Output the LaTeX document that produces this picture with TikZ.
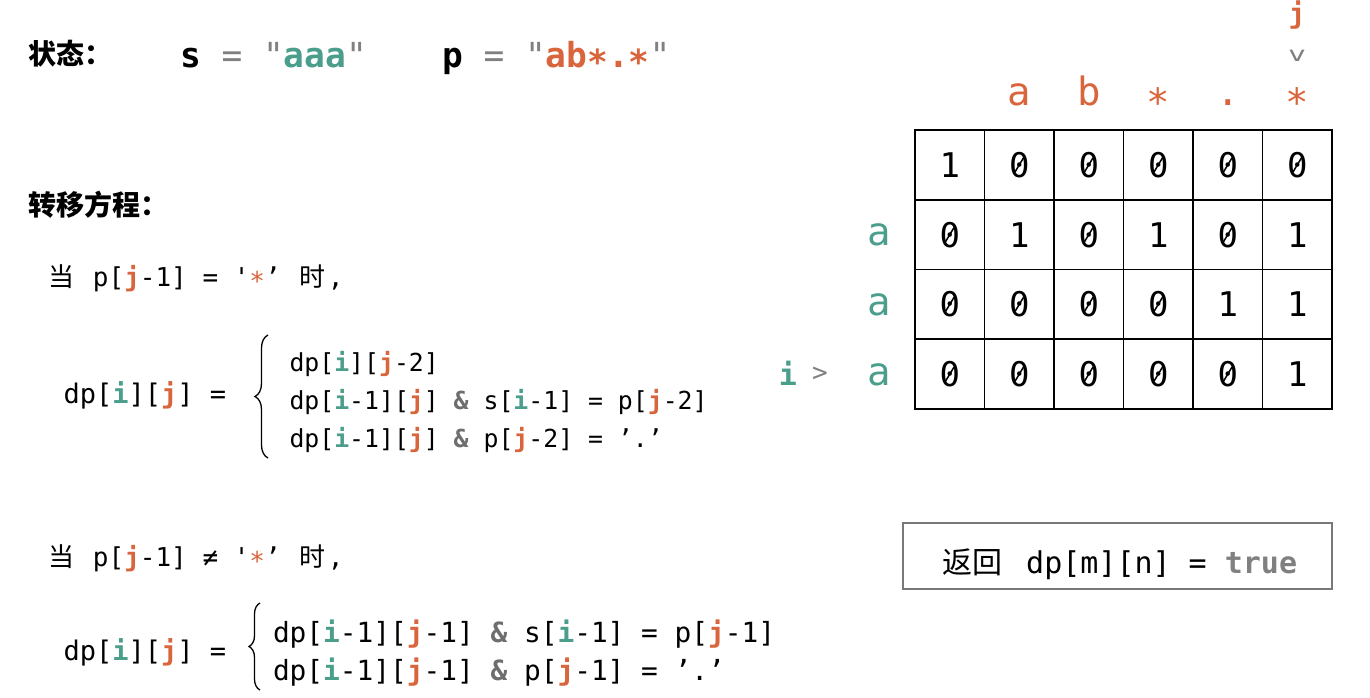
\documentclass[tikz,border=0pt]{standalone}
\usepackage{fontspec}
\usetikzlibrary{decorations.pathreplacing}
\setmonofont{DejaVu Sans Mono}
\newfontfamily\cjk{Noto Sans CJK SC}
\definecolor{tealc}{RGB}{76,158,140}
\definecolor{orgc}{RGB}{217,101,60}
\definecolor{grayc}{RGB}{128,128,128}
\definecolor{ampc}{RGB}{110,110,110}
\definecolor{boxc}{RGB}{120,120,120}
\newcommand\ivar{{\bfseries\color{tealc}i}}
\newcommand\jvar{{\bfseries\color{orgc}j}}
\newcommand\andop{{\bfseries\color{ampc}\&}}
\newcommand\zh[1]{\makebox[1.204em][c]{\cjk #1}}
\newcommand\zhh[1]{\makebox[2.408em][c]{\cjk #1}}
\newcommand\lowast[1][0.2em]{\raisebox{-#1}{*}}
\begin{document}
\begin{tikzpicture}[x=1pt,y=-1pt,
  every node/.style={inner sep=0pt, outer sep=0pt, font=\ttfamily},
  head/.style={anchor=base west, font=\cjk\bfseries\fontsize{28}{28}\selectfont},
  title/.style={anchor=base west, font=\ttfamily\fontsize{34.5}{34.5}\selectfont},
  cond/.style={anchor=base west, font=\ttfamily\fontsize{26}{26}\selectfont},
  lhs/.style={anchor=base west, font=\ttfamily\fontsize{27}{27}\selectfont},
  caseA/.style={anchor=base west, font=\ttfamily\fontsize{24.8}{24.8}\selectfont},
  caseB/.style={anchor=base west, font=\ttfamily\fontsize{27.8}{27.8}\selectfont},
  bracec/.style={line width=1.3pt, decorate},
  cell/.style={draw, line width=1.6pt, minimum width=69.5pt, minimum height=69.75pt, font=\ttfamily\fontsize{34}{34}\selectfont},
  zslash/.style={line width=1.5pt},
  hdr/.style={anchor=base, text=orgc, font=\ttfamily\fontsize{39}{39}\selectfont},
  rowl/.style={anchor=base, text=tealc, font=\ttfamily\fontsize{39}{39}\selectfont},
  ptr/.style={text=grayc, font=\ttfamily\fontsize{26}{26}\selectfont},
  retbox/.style={draw=boxc, line width=1.5pt, minimum width=429pt, minimum height=66pt}]
\useasboundingbox (0,0) rectangle (1370,698);

% headings
\node[head] (h1) at (28,65) {状态：};
\node[head] (h2) at (28,215) {转移方程：};

% title strings
\node[title] (ts) at (180,68) {{\bfseries s} {\color{grayc}= "}{\color{tealc}\bfseries aaa}{\color{grayc}"}};
\node[title] (tp) at (442,68) {{\bfseries p} {\color{grayc}= "}{\color{orgc}\bfseries ab\lowast.\lowast}{\color{grayc}"}};

% first case
\node[cond] (c1) at (46,286) {\zh{当} p[\jvar-1] = '{\color{orgc}\lowast[0.18em]}’ \zh{时},};
\node[lhs] (l1) at (63.5,403) {dp[\ivar][\jvar] =};
\draw[bracec, decoration={brace, amplitude=13pt}] (268,458) -- (268,335);
\node[caseA] (a1) at (289.5,371) {dp[\ivar][\jvar-2]};
\node[caseA] (a2) at (289.5,409) {dp[\ivar-1][\jvar] \andop{} s[\ivar-1] = p[\jvar-2]};
\node[caseA] (a3) at (289.5,447) {dp[\ivar-1][\jvar] \andop{} p[\jvar-2] = ’.’};

% second case
\node[cond] (c2) at (46,566) {\zh{当} p[\jvar-1] ≠ '{\color{orgc}\lowast[0.18em]}’ \zh{时},};
\node[lhs] (l2) at (63.5,660) {dp[\ivar][\jvar] =};
\draw[bracec, decoration={brace, amplitude=11pt}] (260,690) -- (260,603);
\node[caseB] (b1) at (273,642) {dp[\ivar-1][\jvar-1] \andop{} s[\ivar-1] = p[\jvar-1]};
\node[caseB] (b2) at (273,680) {dp[\ivar-1][\jvar-1] \andop{} p[\jvar-1] = ’.’};

% dp table
\foreach \row [count=\r from 0] in {{1,0,0,0,0,0},{0,1,0,1,0,1},{0,0,0,0,1,1},{0,0,0,0,0,1}} {
  \foreach \v [count=\c from 0] in \row {
    \node[cell] (g\r\c) at ({915+69.5*(\c+0.5)},{130+69.75*(\r+0.5)}) {\v};
    \ifnum\v=0
      \draw[zslash] ([shift={(-4.2,7)}]g\r\c.center) -- ([shift={(4.2,-7)}]g\r\c.center);
    \fi
  }
}
\node[hdr] (p1) at (1019.25,106) {a};
\node[hdr] (p2) at (1088.75,106) {b};
\node[hdr] (p3) at (1158.25,106) {\lowast[0.27em]};
\node[hdr] (p4) at (1227.75,106) {.};
\node[hdr] (p5) at (1297.25,106) {\lowast[0.27em]};
\node[rowl] (s1) at (879,245) {a};
\node[rowl] (s2) at (879,315) {a};
\node[rowl] (s3) at (879,385) {a};
\node[anchor=base, text=orgc, font=\ttfamily\bfseries\fontsize{28}{28}\selectfont] (jl) at (1297,24) {j};
\node[ptr] (jv) at (1297,56) {\scalebox{1.15}[0.8]{v}};
\node[anchor=base, text=tealc, font=\ttfamily\bfseries\fontsize{30}{30}\selectfont] (il) at (788,385) {i};
\node[ptr] (iv) at (820,374) {>};

% return box
\node[retbox] (rb) at (1117.5,556) {};
\node[anchor=base, font=\ttfamily\fontsize{30}{30}\selectfont] (rt) at (1116.5,573) {\zhh{返回} dp[m][n] = {\bfseries\color{grayc}true}};
\end{tikzpicture}
\end{document}
